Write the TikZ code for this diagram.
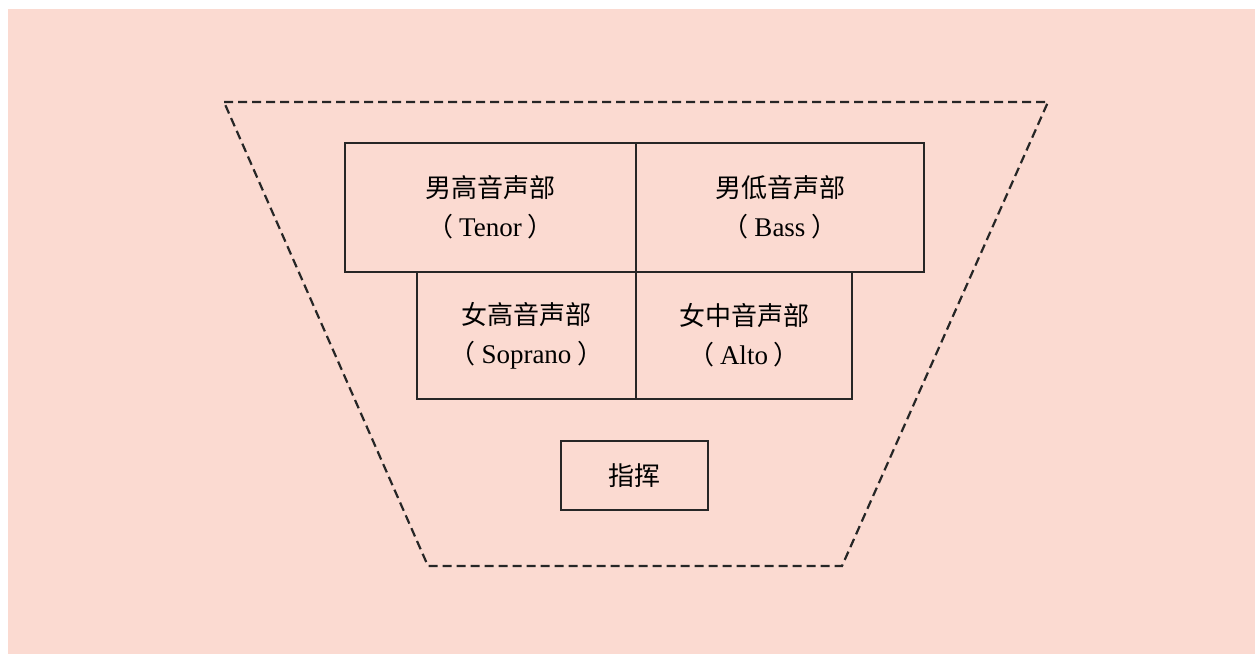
\documentclass[tikz,border=0pt]{standalone}
\usepackage{fontspec}
\setmainfont{Liberation Serif}
\newfontfamily\cjk{Noto Sans CJK SC}
\usepackage{xcolor}
\definecolor{bgpink}{RGB}{251,218,209}
\usetikzlibrary{positioning, calc}

\begin{document}
\begin{tikzpicture}[x=0.5pt, y=-0.5pt,
    part/.style={draw=black!85, line width=0.8pt, align=center, inner sep=0pt,
        font=\cjk\fontsize{13}{19.5}\selectfont},
    stage/.style={draw=black!85, line width=1.1pt, dash pattern=on 4.5pt off 2.5pt}]
% background
\fill[white] (0,0) rectangle (1255,654);
\fill[bgpink] (8,9) rectangle (1255,654);
\useasboundingbox (0,0) rectangle (1255,654);

% stage outline
\coordinate (tl) at (224,102);
\coordinate (tr) at (1048,102);
\coordinate (br) at (842,566);
\coordinate (bl) at (428,566);
\draw[stage] (tl) -- (tr) -- (br) -- (bl) -- cycle;

% back row
\node[part, minimum width=145.5pt, minimum height=64.5pt] (tenor) at (490.5,207.5)
    {男高音声部\\（ {\rmfamily\fontsize{13.5}{19.5}\selectfont Tenor} ）};
\node[part, minimum width=144pt, minimum height=64.5pt] (bass) at (780,207.5)
    {男低音声部\\（ {\rmfamily\fontsize{13.5}{19.5}\selectfont Bass} ）};

% front row
\node[part, minimum width=109.5pt, minimum height=63.5pt] (soprano) at (526.5,335.5)
    {女高音声部\\（ {\rmfamily\fontsize{13.5}{19.5}\selectfont Soprano} ）};
\node[part, minimum width=108pt, minimum height=63.5pt] (alto) at (744,335.5)
    {女中音声部\\（ {\rmfamily\fontsize{13.5}{19.5}\selectfont Alto} ）};

% conductor
\node[part, minimum width=73.5pt, minimum height=34.5pt] (conductor) at (634.5,475.5) {指挥};
\end{tikzpicture}
\end{document}
